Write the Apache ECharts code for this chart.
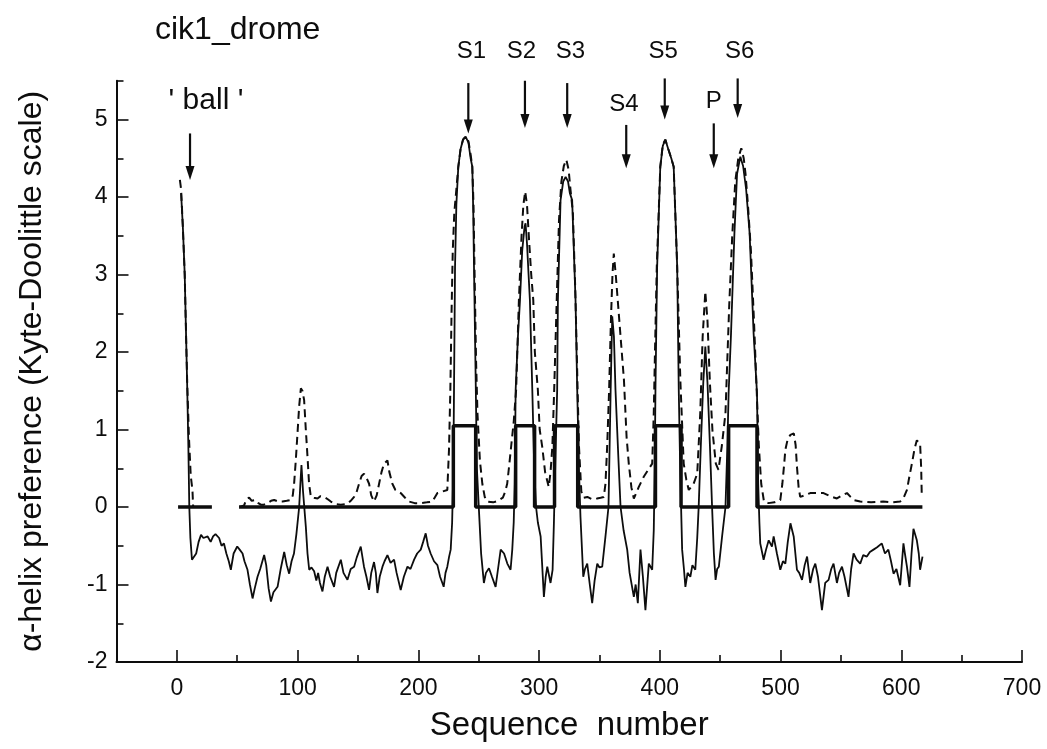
<!DOCTYPE html>
<html><head><meta charset="utf-8">
<script src="https://cdn.jsdelivr.net/npm/echarts@6/dist/echarts.min.js"></script>
<style>html,body{margin:0;padding:0;background:#fff}#c{width:1047px;height:749px}</style>
</head><body><div id="c"></div>
<script>
// thin solid profile: alpha-helix preference per residue
const helixSolid = [[3.5,4.05],[5,3.6],[6.5,3.0],[7.5,2.3],[8.5,1.6],[9.5,0.8],[10.3,0],[11.2,-0.4],[12.5,-0.68],[14,-0.66],[16,-0.6],[18,-0.45],[20,-0.36],[22,-0.4],[25.5,-0.38],[28,-0.45],[30,-0.38],[32,-0.35],[35,-0.4],[37,-0.5],[39,-0.47],[41,-0.6],[43,-0.7],[44.7,-0.81],[47,-0.6],[50,-0.51],[52,-0.55],[54.4,-0.6],[56,-0.7],[58.5,-0.81],[60.5,-1.0],[62.7,-1.18],[64.5,-1.05],[66.8,-0.9],[69,-0.8],[72.3,-0.62],[74,-0.75],[76,-1.05],[77.9,-1.22],[80,-1.1],[83.4,-1.03],[86,-0.8],[88.9,-0.58],[91,-0.75],[93,-0.86],[95,-0.7],[97,-0.6],[99,-0.35],[101.3,0],[102.3,0.3],[103.2,0.54],[104.5,0.2],[106.8,-0.25],[108.2,-0.6],[109.6,-0.81],[111.5,-0.78],[113.7,-0.83],[115.5,-0.95],[117,-0.85],[118.5,-0.98],[120.6,-1.09],[122.5,-0.9],[124.8,-0.77],[127,-0.9],[130.2,-1.03],[132,-0.85],[135.8,-0.68],[138,-0.85],[141.3,-0.94],[144,-0.8],[146.8,-0.77],[149,-0.65],[152.3,-0.51],[155,-0.77],[157,-0.9],[159.2,-1.07],[161,-0.85],[163.3,-0.71],[164.8,-0.85],[166.1,-1.11],[168,-0.9],[170.3,-0.77],[172,-0.7],[174.4,-0.62],[177,-0.72],[179.9,-0.68],[182,-0.85],[185.4,-1.07],[188,-0.9],[191,-0.77],[193.5,-0.8],[196.5,-0.68],[199,-0.6],[202,-0.55],[204,-0.45],[206.1,-0.34],[208,-0.5],[210.2,-0.6],[213,-0.7],[215.8,-0.75],[218,-0.9],[219.9,-0.98],[221,-1.03],[222.5,-0.85],[224,-0.77],[225.5,-0.64],[226.8,-0.55],[228,-0.2],[229,0.5],[229.6,1.6],[230.4,3.1],[231.5,3.9],[233.1,4.39],[235,4.62],[237,4.74],[239.2,4.78],[241.5,4.7],[243.3,4.5],[244.7,4.39],[245.5,3.8],[246.1,3.1],[247.5,1.64],[248.5,0.5],[250.2,-0.04],[252,-0.6],[254.3,-0.98],[256,-0.85],[258.5,-0.79],[261,-0.9],[264,-1.03],[266,-0.8],[268.2,-0.55],[271,-0.6],[273.7,-0.73],[276.4,-0.81],[277.8,-0.55],[279,-0.2],[279.8,0.3],[280.6,1.51],[282.5,2.2],[284.2,2.67],[286,3.3],[288,3.62],[288.8,3.66],[290,3.4],[291.3,3.0],[292.4,2.67],[294.4,1.51],[296,0.5],[297.5,0],[299,-0.2],[301.3,-0.38],[304,-1.16],[305.5,-0.9],[306.8,-0.77],[309.5,-0.98],[311.2,-0.81],[312.3,-0.2],[313.5,0.6],[315,1.51],[315.6,2.67],[317.8,3.96],[320,4.2],[322,4.26],[324,4.2],[325.5,4.05],[327.4,3.96],[330.2,2.67],[331.6,1.51],[333,0.5],[334.3,-0.13],[336.6,-0.9],[338,-0.8],[339.9,-0.73],[342,-1.0],[344,-1.24],[346,-0.95],[348.2,-0.73],[350,-0.78],[352.3,-0.77],[355,-0.38],[357.5,0],[359.3,1.51],[360.6,2.46],[362,2.2],[363.3,1.51],[365.5,0.7],[367.5,0],[370,-0.3],[373,-0.55],[375,-0.85],[378.5,-1.16],[380,-1.0],[381.8,-1.24],[384,-0.55],[386,-0.9],[388.1,-1.33],[390.9,-0.73],[393.7,-0.81],[395,-0.3],[395.8,0.5],[396.4,1.51],[397.8,3.1],[400.4,4.39],[402.5,4.66],[404.6,4.74],[407,4.62],[409.5,4.5],[411.5,4.39],[414.4,3.1],[415.7,1.51],[417,0.4],[418.5,-0.55],[420,-0.8],[421.2,-1.03],[423,-0.85],[425.3,-0.9],[427,-0.75],[429.4,-0.81],[431,-0.4],[432.2,0],[434,0.8],[436,1.6],[437.7,2.07],[439.5,1.6],[441.5,0.8],[443.3,0],[444.8,-0.6],[446.2,-0.94],[447.5,-0.8],[448.9,-0.77],[451.6,-0.38],[454.4,0],[456,0.8],[457,1.47],[459,2.24],[461.8,3.53],[464,4.3],[466.7,4.52],[469,4.4],[471.5,4.1],[474.4,3.53],[477.7,2.24],[480.5,1.47],[481.5,0.3],[482.5,-0.2],[483.2,-0.47],[486,-0.68],[488,-0.55],[490.2,-0.43],[492.9,-0.51],[494.3,-0.38],[497,-0.6],[499.8,-0.81],[502,-0.7],[504,-0.73],[506,-0.45],[508.2,-0.21],[510.9,-0.38],[513.6,-0.81],[515.5,-0.85],[517.8,-0.94],[520,-0.75],[522,-0.64],[524.6,-0.98],[527,-0.8],[528.8,-0.73],[531,-0.9],[534.3,-1.33],[537,-0.98],[539.8,-0.94],[542,-0.8],[543.9,-0.73],[546.7,-0.98],[548.5,-0.85],[550.9,-0.77],[553,-0.9],[556.3,-1.16],[558.5,-0.8],[560.5,-0.6],[563,-0.68],[566,-0.73],[568.5,-0.62],[571.5,-0.64],[574,-0.58],[577,-0.55],[580,-0.52],[583.9,-0.47],[586.5,-0.6],[589.3,-0.55],[591.5,-0.7],[593.6,-0.86],[596,-0.8],[599.1,-1.01],[601.8,-0.47],[603,-0.6],[604.7,-0.77],[606.8,-1.03],[608.5,-0.6],[610.1,-0.28],[612.9,-0.43],[614.5,-0.6],[615.6,-0.81],[617.6,-0.64]];

// dashed profile; '-' marks a gap
const helixDashed = [[2.5,4.22],[3.5,4.1],[5,3.6],[6.5,3.0],[7.5,2.3],[8.5,1.64],[10,0.9],[11.5,0.4],[12.9,0.22],[13.5,0],[30,'-'],[52,0],[55.7,0.02],[57.5,0.1],[59.9,0.12],[62,0.08],[65.4,0.09],[67.5,0.05],[69.5,0.03],[72,0.03],[75.1,0.05],[78,0.08],[80.6,0.09],[84,0.07],[87.5,0.07],[91,0.08],[94.4,0.09],[96,0.15],[97.1,0.3],[98.5,0.6],[99.9,0.95],[101.3,1.3],[102.7,1.53],[104,1.5],[105.4,1.38],[106.8,1.0],[108.2,0.65],[109.5,0.3],[111,0.13],[113.5,0.12],[116.5,0.11],[119,0.14],[122,0.13],[125,0.1],[127.5,0.07],[131,0.04],[135.8,0.03],[141.3,0.04],[144,0.08],[146.8,0.13],[149,0.2],[150.9,0.3],[153,0.4],[155,0.43],[157,0.38],[159.2,0.3],[161,0.15],[163.3,0.07],[165.5,0.15],[167.5,0.3],[169.5,0.45],[171.6,0.56],[174.4,0.6],[176,0.45],[178.5,0.3],[181,0.22],[185.4,0.18],[189,0.12],[192.3,0.07],[197,0.05],[202,0.05],[207,0.06],[211.7,0.07],[213.5,0.12],[215.8,0.18],[220,0.2],[224,0.22],[225.4,0.74],[226.5,1.5],[227.5,2.5],[228.5,3.3],[229.8,3.8],[231.5,4.1],[233.1,4.39],[235,4.62],[237,4.74],[239.2,4.78],[241.5,4.72],[243.3,4.55],[244.7,4.39],[245.7,3.9],[246.5,3.1],[247.8,1.9],[249,1.2],[251,0.6],[253,0.3],[255,0.13],[257,0.07],[262,0.06],[266,0.08],[270,0.12],[272,0.2],[273.6,0.3],[275,0.5],[277,0.8],[279,1.1],[281,1.51],[283.3,2.67],[285.5,3.5],[287,3.9],[288.5,4.07],[290,3.9],[291.5,3.5],[293.5,3.0],[295.2,2.67],[296.5,2.0],[299,1.51],[300.5,1.0],[302.6,0.78],[305,0.45],[308,0.26],[309.5,0.45],[311,0.78],[312.5,1.5],[314.5,2.6],[316.5,3.7],[318.5,4.2],[320.5,4.4],[322.6,4.48],[324.5,4.35],[326,4.1],[328,3.8],[330,2.8],[331.5,1.8],[333,0.8],[335,0.2],[337,0.12],[340,0.13],[344,0.1],[348,0.11],[351,0.12],[353.6,0.13],[355,0.3],[356.4,0.78],[358,1.5],[359.5,2.4],[360.8,3.0],[361.9,3.27],[363.5,3.0],[365.5,2.6],[367.5,2.2],[369,1.9],[370.3,1.64],[372.5,0.9],[374.3,0.56],[376.5,0.25],[378.5,0.11],[380.5,0.18],[382.6,0.26],[386.7,0.39],[390,0.47],[393.7,0.56],[395,1.21],[396,2.0],[397.5,3.1],[400.4,4.39],[402.5,4.68],[404.6,4.74],[407,4.62],[409.5,4.5],[411.5,4.39],[414.4,3.1],[416,2.2],[417,1.64],[419.8,0.56],[422,0.35],[424,0.22],[426,0.26],[428,0.3],[431,0.43],[433.5,1.21],[435.5,2.2],[437.7,2.78],[439.5,2.4],[441.5,1.6],[443.6,0.99],[446.4,0.56],[448.6,0.48],[451.3,0.78],[454.4,1.21],[455.7,1.8],[457.5,2.6],[460,3.5],[462.5,4.2],[465,4.5],[467.5,4.63],[469.5,4.5],[471,4.3],[473,3.9],[475.5,3.3],[478,2.4],[480,1.6],[482,0.8],[484,0.3],[486.3,0.07],[490,0.05],[495,0.06],[499.8,0.09],[501.5,0.3],[503,0.55],[504,0.74],[506,0.88],[508.2,0.93],[511,0.95],[512.5,0.8],[513.6,0.52],[515,0.25],[516.3,0.13],[520,0.15],[524.6,0.18],[530,0.18],[535.6,0.18],[541,0.14],[546.7,0.11],[551,0.15],[555,0.18],[558,0.13],[560.5,0.09],[566,0.07],[575,0.06],[585,0.07],[592,0.06],[599.1,0.07],[602,0.12],[604.7,0.22],[606.8,0.4],[608.8,0.56],[611,0.75],[612.9,0.86],[614.5,0.88],[615.6,0.82],[616.5,0.5],[617,0.13]];

// thick step line: predicted segments
const baselineRanges = [[1, 29], [51.5, 617.5]];
const segStarts = [229, 280.6, 312.8, 396.4, 457];
const segEnds   = [247.5, 296.3, 332, 417.6, 480.5];
const segLevel  = 1.05;

// axis ticks
const xMajorTicks = [0, 100, 200, 300, 400, 500, 600, 700];
const xMinorTicks = [50, 150, 250, 350, 450, 550, 650];
const yMajorTicks = [-2, -1, 0, 1, 2, 3, 4, 5];
const yMinorTicks = [-1.5, -0.5, 0.5, 1.5, 2.5, 3.5, 4.5, 5.5];

// annotations
const annotText   = ["' ball '", 'S1', 'S2', 'S3', 'S4', 'S5', 'P', 'S6'];
const annotTextX  = [24.1, 243.9, 285.3, 326, 370.2, 402.8, 444.7, 466.2];
const annotTextY  = [5.24, 5.88, 5.88, 5.88, 5.2, 5.88, 5.24, 5.88];
const annotSize   = [30, 24, 24, 24, 24, 24, 24, 24];
const arrowX      = [10.9, 241.4, 288.3, 323.3, 372.2, 404.1, 444.7, 464.5];
const arrowTop    = [4.82, 5.47, 5.5, 5.47, 4.93, 5.53, 4.95, 5.53];
const arrowTip    = [4.22, 4.82, 4.89, 4.89, 4.37, 5.0, 4.37, 5.02];

const stepData = [];
stepData.push([baselineRanges[0][0], 0], [baselineRanges[0][1], 0], [(baselineRanges[0][1] + baselineRanges[1][0]) / 2, '-']);
stepData.push([baselineRanges[1][0], 0]);
segStarts.forEach((s, i) => {
  stepData.push([s, 0], [s, segLevel], [segEnds[i], segLevel], [segEnds[i], 0]);
});
stepData.push([baselineRanges[1][1], 0]);

const FONT = "'Liberation Sans', Arial, Helvetica, sans-serif";
const NARROW = "'Liberation Sans Narrow', 'Arial Narrow', 'Liberation Sans', sans-serif";
const INK = '#0d0d0d';

const chart = echarts.init(document.getElementById('c'), null, {renderer: 'canvas'});
const xBase = {type: 'value', min: -50, max: 700, position: 'bottom', splitLine: {show: false}};
const yBase = {type: 'value', min: -2, max: 5.5, position: 'left', splitLine: {show: false}};
chart.setOption({
  backgroundColor: '#fff',
  animation: false,
  textStyle: {fontFamily: FONT},
  title: {text: 'cik1_drome', left: 150, top: 9,
    textStyle: {fontSize: 32, fontWeight: 'normal', color: INK, fontFamily: FONT}},
  grid: {left: 116.5, right: 25, top: 80.75, bottom: 87, containLabel: false, outerBoundsMode: 'none'},
  xAxis: [
    Object.assign({}, xBase, {
      axisLine: {show: true, onZero: false, lineStyle: {color: INK, width: 2}},
      axisTick: {show: true, inside: true, length: 12, customValues: xMajorTicks, lineStyle: {color: INK, width: 1.6}},
      axisLabel: {show: true, customValues: xMajorTicks, margin: 15, fontSize: 23, color: INK, fontFamily: NARROW},
      name: 'Sequence  number', nameLocation: 'middle', nameGap: 47,
      nameTextStyle: {fontSize: 33, color: INK, fontFamily: FONT}
    }),
    Object.assign({}, xBase, {
      axisLine: {show: false, onZero: false},
      axisTick: {show: true, inside: true, length: 7, customValues: xMinorTicks, lineStyle: {color: INK, width: 1.6}},
      axisLabel: {show: false}
    })
  ],
  yAxis: [
    Object.assign({}, yBase, {
      axisLine: {show: true, onZero: false, lineStyle: {color: INK, width: 2}},
      axisTick: {show: true, inside: true, length: 12, customValues: yMajorTicks, lineStyle: {color: INK, width: 1.6}},
      axisLabel: {show: true, customValues: yMajorTicks, margin: 9, fontSize: 23, color: INK, fontFamily: NARROW},
      name: 'α-helix preference (Kyte-Doolittle scale)', nameLocation: 'middle', nameGap: 68, nameRotate: 90,
      nameTextStyle: {fontSize: 32, color: INK, fontFamily: FONT}
    }),
    Object.assign({}, yBase, {
      axisLine: {show: false, onZero: false},
      axisTick: {show: true, inside: true, length: 7, customValues: yMinorTicks, lineStyle: {color: INK, width: 1.6}},
      axisLabel: {show: false}
    })
  ],
  series: [
    {type: 'line', name: 'solid', data: helixSolid, showSymbol: false, symbol: 'none', connectNulls: false,
      lineStyle: {color: INK, width: 1.8}, z: 3},
    {type: 'line', name: 'dashed', data: helixDashed, showSymbol: false, symbol: 'none', connectNulls: false,
      lineStyle: {color: INK, width: 2, type: [8, 5]}, z: 4},
    {type: 'line', name: 'segments', data: stepData, showSymbol: false, symbol: 'none', connectNulls: false,
      lineStyle: {color: INK, width: 3.5}, z: 5},
    {type: 'custom', name: 'arrows', clip: false, z: 6,
      data: arrowX.map((x, i) => [x, arrowTop[i], arrowTip[i]]),
      encode: {x: 0, y: [1, 2]},
      renderItem: (params, api) => {
        const p1 = api.coord([api.value(0), api.value(1)]);
        const p2 = api.coord([api.value(0), api.value(2)]);
        const head = 14, half = 4.5;
        return {type: 'group', children: [
          {type: 'line', shape: {x1: p1[0], y1: p1[1], x2: p2[0], y2: p2[1] - head + 2}, style: {stroke: INK, lineWidth: 2.2}},
          {type: 'polygon', shape: {points: [[p2[0] - half, p2[1] - head], [p2[0] + half, p2[1] - head], [p2[0], p2[1]]]}, style: {fill: INK}}
        ]};
      }},
    {type: 'custom', name: 'labels', clip: false, z: 6,
      data: annotTextX.map((x, i) => [x, annotTextY[i], i]),
      encode: {x: 0, y: 1},
      renderItem: (params, api) => {
        const i = api.value(2);
        const p = api.coord([api.value(0), api.value(1)]);
        return {type: 'text', x: p[0], y: p[1], style: {text: annotText[i], fontSize: annotSize[i], fontFamily: FONT,
          fill: INK, align: 'center', verticalAlign: 'middle'}};
      }}
  ]
});
</script></body></html>
